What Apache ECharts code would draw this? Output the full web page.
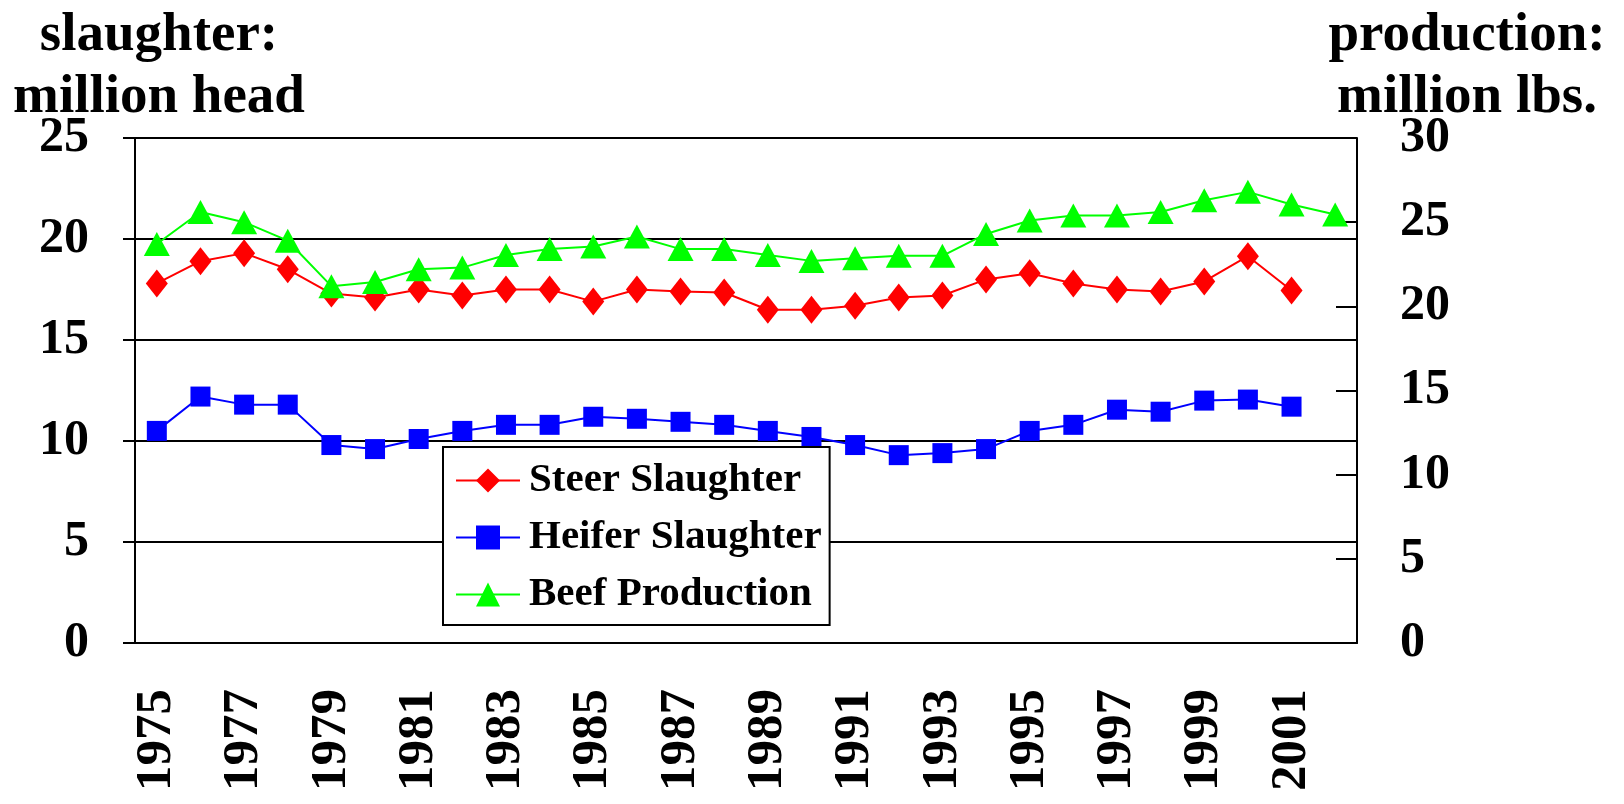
<!DOCTYPE html>
<head>
  <meta charset="utf-8">
  <title>Steer, Heifer Slaughter and Beef Production</title>
  <script src="https://cdn.jsdelivr.net/npm/echarts@6/dist/echarts.min.js"></script>
  <style>
    html, body { margin: 0; padding: 0; background: #fff; }
    #main { width: 1624px; height: 804px; }
  </style>
</head>
<body>
  <div id="main"></div>
  <script>
    var years = ['1975','1976','1977','1978','1979','1980','1981','1982','1983','1984',
                 '1985','1986','1987','1988','1989','1990','1991','1992','1993','1994',
                 '1995','1996','1997','1998','1999','2000','2001','2002'];

    // million head (left axis)
    var steer = [17.8, 18.9, 19.3, 18.5, 17.3, 17.1, 17.5, 17.2, 17.5, 17.5,
                 16.9, 17.5, 17.4, 17.35, 16.5, 16.5, 16.7, 17.1, 17.2, 18.0,
                 18.3, 17.8, 17.5, 17.4, 17.9, 19.15, 17.45];
    var heifer = [10.5, 12.2, 11.8, 11.8, 9.8, 9.6, 10.1, 10.5, 10.8, 10.8,
                  11.2, 11.1, 10.95, 10.8, 10.5, 10.2, 9.8, 9.3, 9.4, 9.6,
                  10.5, 10.8, 11.55, 11.45, 12.0, 12.05, 11.7];
    // million lbs. (right axis)
    var beef = [23.7, 25.6, 25.0, 23.9, 21.2, 21.45, 22.2, 22.3, 23.05, 23.4,
                23.55, 24.15, 23.4, 23.4, 23.05, 22.7, 22.85, 23.0, 23.0, 24.3,
                25.1, 25.4, 25.4, 25.6, 26.3, 26.8, 26.05, 25.45];

    var font = "'Liberation Serif', 'Times New Roman', serif";

    var myChart = echarts.init(document.getElementById('main'));

    option = {
      animation: false,
      backgroundColor: '#fff',
      textStyle: { fontFamily: font, fontWeight: 'bold', color: '#000' },
      grid: { left: 135, right: 267, top: 138, bottom: 161, containLabel: false },
      graphic: [
        { type: 'text', x: 159, y: 5,
          style: { text: 'slaughter:\nmillion head', fill: '#000', font: 'bold 55px ' + font,
                   align: 'center', lineHeight: 62 } },
        { type: 'text', x: 1467, y: 5,
          style: { text: 'production:\nmillion lbs.', fill: '#000', font: 'bold 55px ' + font,
                   align: 'center', lineHeight: 62 } }
      ],
      legend: {
        orient: 'vertical',
        left: 443,
        top: 447,
        padding: [13, 8, 10, 12],
        itemGap: 16,
        itemWidth: 64,
        itemHeight: 30,
        backgroundColor: '#fff',
        borderColor: '#000',
        borderWidth: 2,
        borderRadius: 0,
        textStyle: { fontFamily: font, fontWeight: 'bold', fontSize: 41, color: '#000',
                     padding: [0, 0, 0, 4] },
        data: ['Steer Slaughter', 'Heifer Slaughter', 'Beef Production']
      },
      xAxis: {
        type: 'category',
        data: years,
        boundaryGap: true,
        axisLine: { lineStyle: { color: '#000', width: 2 } },
        axisTick: { interval: 0, length: 28, lineStyle: { color: '#000', width: 2 } },
        axisLabel: { interval: 1, rotate: 90, margin: 46, fontSize: 51,
                     fontFamily: font, fontWeight: 'bold', color: '#000' },
        splitLine: { show: false }
      },
      yAxis: [
        {
          type: 'value', min: 0, max: 25, interval: 5, position: 'left',
          axisLine: { show: true, lineStyle: { color: '#000', width: 2 } },
          axisTick: { show: true, length: 12, lineStyle: { color: '#000', width: 2 } },
          axisLabel: { margin: 46, fontSize: 50, fontFamily: font, fontWeight: 'bold', color: '#000' },
          splitLine: { show: true, lineStyle: { color: '#000', width: 2 } }
        },
        {
          type: 'value', min: 0, max: 30, interval: 5, position: 'right',
          axisLine: { show: true, lineStyle: { color: '#000', width: 2 } },
          axisTick: { show: true, inside: true, length: 21, lineStyle: { color: '#000', width: 2 } },
          axisLabel: { margin: 43, fontSize: 50, fontFamily: font, fontWeight: 'bold', color: '#000' },
          splitLine: { show: false }
        }
      ],
      series: [
        {
          name: 'Steer Slaughter', type: 'line', yAxisIndex: 0, data: steer,
          symbol: 'diamond', symbolSize: [22, 28],
          lineStyle: { color: '#ff0000', width: 2 },
          itemStyle: { color: '#ff0000' }
        },
        {
          name: 'Heifer Slaughter', type: 'line', yAxisIndex: 0, data: heifer,
          symbol: 'rect', symbolSize: [20, 20],
          lineStyle: { color: '#0000ff', width: 2 },
          itemStyle: { color: '#0000ff' }
        },
        {
          name: 'Beef Production', type: 'line', yAxisIndex: 1, data: beef,
          symbol: 'triangle', symbolSize: [26, 24],
          lineStyle: { color: '#00ff00', width: 2 },
          itemStyle: { color: '#00ff00' }
        }
      ]
    };

    myChart.setOption(option);
  </script>
</body>
